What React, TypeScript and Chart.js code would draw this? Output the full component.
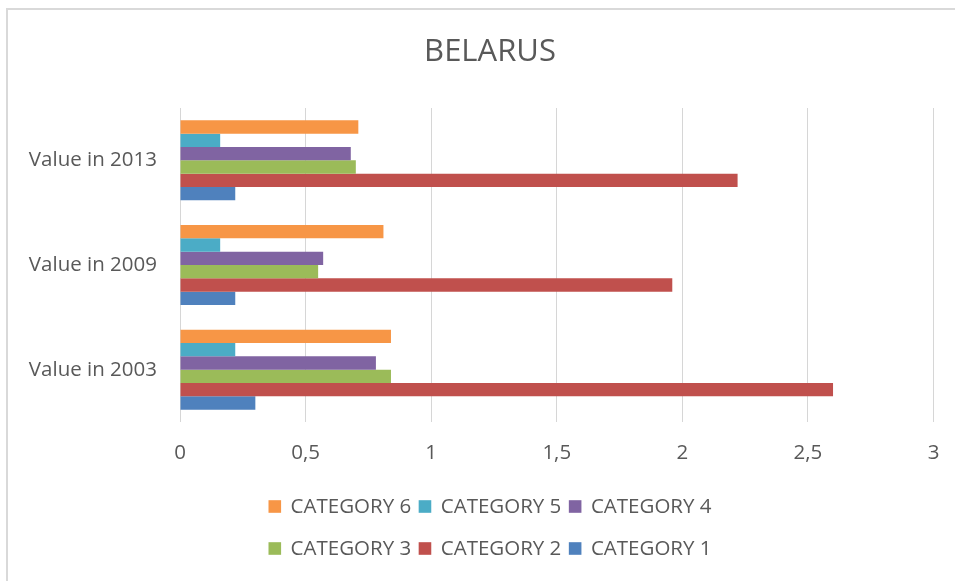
import React, { useEffect, useRef } from "react";
import { Chart, registerables } from "chart.js";

Chart.register(...registerables);

// ---- data ----
const chartTitle = "BELARUS";
const years = ["Value in 2013", "Value in 2009", "Value in 2003"];
const category1 = [0.22, 0.22, 0.3];
const category2 = [2.22, 1.96, 2.6];
const category3 = [0.7, 0.55, 0.84];
const category4 = [0.68, 0.57, 0.78];
const category5 = [0.16, 0.16, 0.22];
const category6 = [0.71, 0.81, 0.84];
const tickLabels = ["0", "0,5", "1", "1,5", "2", "2,5", "3"];
const seriesNames = ["CATEGORY 6", "CATEGORY 5", "CATEGORY 4", "CATEGORY 3", "CATEGORY 2", "CATEGORY 1"];
const seriesValues = [category6, category5, category4, category3, category2, category1];
const seriesColors = ["#F79646", "#4BACC6", "#8064A2", "#9BBB59", "#C0504D", "#4F81BD"];

const FONT = "'Open Sans', 'DejaVu Sans', sans-serif";
const TEXT = "#595959";
const FRAME_CENTER_X = 490;

const titleLegendPlugin = {
  id: "excelTitleLegend",
  afterDraw(chart: any) {
    const ctx = chart.ctx;
    ctx.save();
    // title
    ctx.font = `31px ${FONT}`;
    ctx.fillStyle = TEXT;
    ctx.textAlign = "center";
    ctx.textBaseline = "middle";
    ctx.fillText(chartTitle, FRAME_CENTER_X, 52);

    // legend
    const ds = chart.data.datasets;
    const rows = [ds.slice(0, 3), ds.slice(3, 6)];
    const rowY = [506.5, 548.5];
    const box = 12.6;
    const gap = 9.5;
    const spacing = 7.5;
    ctx.font = `20.5px ${FONT}`;
    ctx.textAlign = "left";
    rows.forEach((row: any[], r: number) => {
      const widths = row.map((d) => box + gap + ctx.measureText(d.label).width);
      const total = widths.reduce((a, b) => a + b, 0) + spacing * (row.length - 1);
      let x = FRAME_CENTER_X - total / 2;
      row.forEach((d, i) => {
        ctx.fillStyle = d.backgroundColor;
        ctx.fillRect(x, rowY[r] - box / 2, box, box);
        ctx.fillStyle = TEXT;
        ctx.fillText(d.label, x + box + gap, rowY[r] + 1);
        x += widths[i] + spacing;
      });
    });
    ctx.restore();
  },
};

export default function App() {
  const ref = useRef<HTMLCanvasElement>(null);
  useEffect(() => {
    if (!ref.current) return;
    const chart = new Chart(ref.current, {
      type: "bar",
      data: {
        labels: years,
        datasets: seriesNames.map((name, i) => ({
          label: name,
          data: seriesValues[i],
          backgroundColor: seriesColors[i],
          borderWidth: 0,
          categoryPercentage: 0.765,
          barPercentage: 1,
        })),
      },
      options: {
        indexAxis: "y",
        responsive: false,
        animation: false,
        layout: { padding: { left: 0, right: 21.5, top: 108, bottom: 100 } },
        plugins: {
          legend: { display: false },
          tooltip: { enabled: false },
          title: { display: false },
        },
        scales: {
          x: {
            min: 0,
            max: 3,
            ticks: {
              stepSize: 0.5,
              color: TEXT,
              font: { family: FONT, size: 20.5 },
              padding: 19,
              callback: (_v: any, i: number) => tickLabels[i],
            },
            grid: { color: "#d6d6d6", lineWidth: 1, drawTicks: false },
            border: { display: false },
            afterFit: (s: any) => {
              s.height = 59;
              s.paddingLeft = 0;
              s.paddingRight = 0;
            },
          },
          y: {
            ticks: {
              color: TEXT,
              font: { family: FONT, size: 20.5 },
              padding: 23,
            },
            grid: { display: false, drawTicks: false },
            border: { display: false },
            afterFit: (s: any) => {
              s.width = 180;
            },
          },
        },
      },
      plugins: [titleLegendPlugin],
    });
    return () => chart.destroy();
  }, []);

  return (
    <div
      style={{
        position: "fixed",
        left: 0,
        top: 0,
        width: 955,
        height: 581,
        overflow: "hidden",
        background: "#fff",
      }}
    >
      <div
        style={{
          position: "absolute",
          left: 6,
          top: 8,
          width: 1200,
          height: 1200,
          borderLeft: "2px solid #d9d9d9",
          borderTop: "2px solid #d9d9d9",
        }}
      />
      <canvas
        ref={ref}
        width={955}
        height={581}
        style={{ position: "absolute", left: 0, top: 0, width: 955, height: 581 }}
      />
    </div>
  );
}
